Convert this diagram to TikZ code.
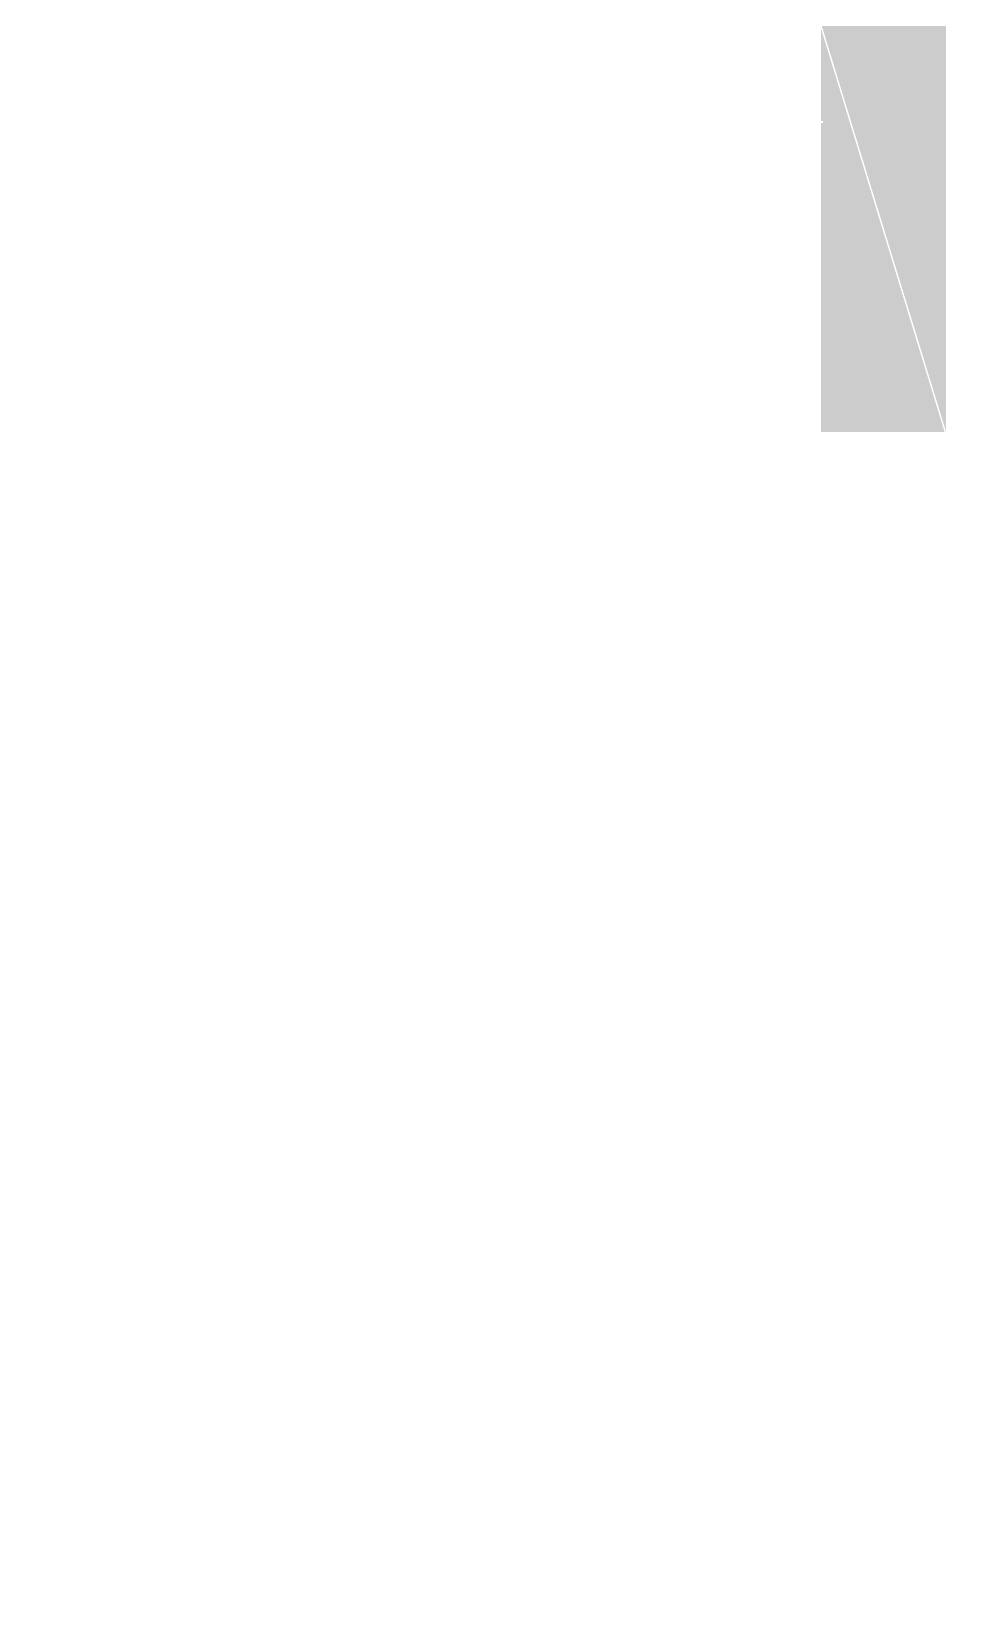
\documentclass[tikz,border=0pt]{standalone}
\usepackage{xcolor}
\usepackage{tikz}
\definecolor{panelgray}{HTML}{CCCCCC}

\begin{document}
\begin{tikzpicture}
      \tikzset{panel/.style={fill=panelgray,inner sep=0pt,outer sep=0pt,anchor=north west,
        minimum width=1.245cm,minimum height=4.065cm}}
      \useasboundingbox (0,0) rectangle (10,16.38);
      \node[panel] (strip) at (8.21,16.12) {};
      \coordinate (tick) at (8.20,15.16);
      \draw [white,line width=0.4pt] (strip.north west) -- (strip.south east);
      \draw [white,line width=0.4pt] (tick) -- ++(0.03,0);
    \end{tikzpicture}
\end{document}
